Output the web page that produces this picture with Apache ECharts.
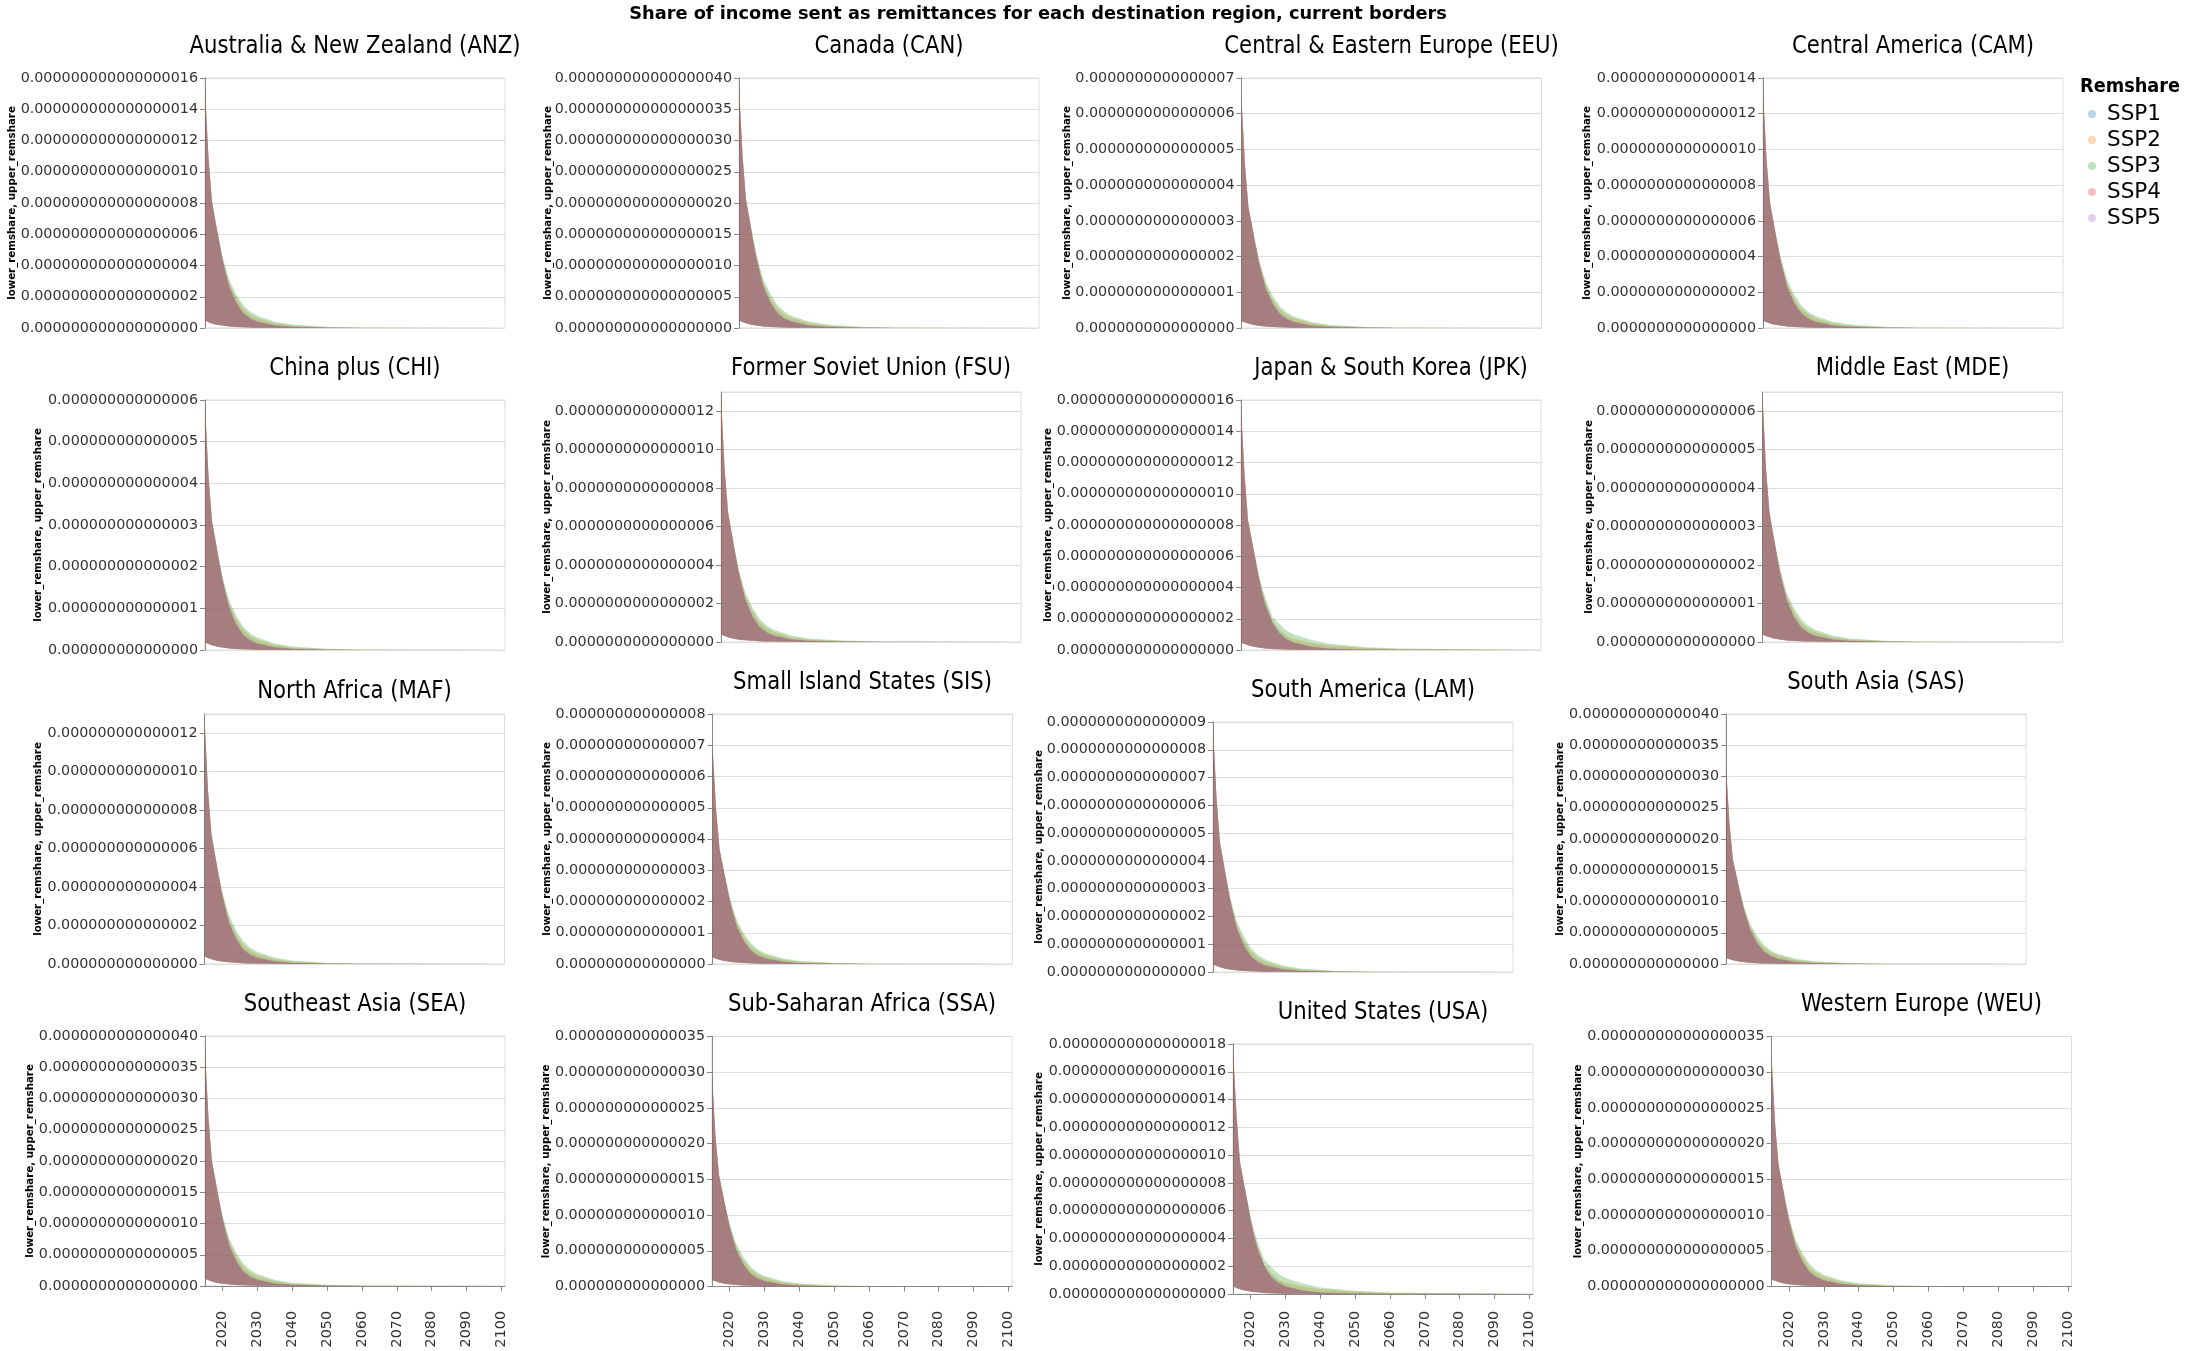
<!DOCTYPE html>
<html><head><meta charset="utf-8">
<script src="https://cdn.jsdelivr.net/npm/echarts@6/dist/echarts.min.js"></script>
<style>html,body{margin:0;padding:0;background:#fff}#chart{width:2187px;height:1351px}</style>
</head><body><div id="chart"></div>
<script>
// ---------------- DATA ----------------
const years = [2015, 2016, 2017, 2018, 2019, 2020, 2021, 2022, 2024, 2026, 2028, 2030, 2035, 2040, 2050, 2060, 2100];
const xTickYears = [2020, 2030, 2040, 2050, 2060, 2070, 2080, 2090, 2100];
const sspNames = ['SSP1', 'SSP2', 'SSP3', 'SSP4', 'SSP5'];
const mainTitle = 'Share of income sent as remittances for each destination region, current borders';
const legendTitle = 'Remshare';
const yAxisTitle = 'lower_remshare, upper_remshare';
const regionTitles = [
  'Australia & New Zealand (ANZ)', 'Canada (CAN)', 'Central & Eastern Europe (EEU)', 'Central America (CAM)',
  'China plus (CHI)', 'Former Soviet Union (FSU)', 'Japan & South Korea (JPK)', 'Middle East (MDE)',
  'North Africa (MAF)', 'Small Island States (SIS)', 'South America (LAM)', 'South Asia (SAS)',
  'Southeast Asia (SEA)', 'Sub-Saharan Africa (SSA)', 'United States (USA)', 'Western Europe (WEU)'
];
// values below are stored in these units (value * unit = share)
const regionUnit = [1e-19, 1e-19, 1e-18, 1e-17, 1e-17, 1e-17, 1e-19, 1e-18, 1e-16, 1e-17, 1e-18, 1e-16, 1e-17, 1e-16, 1e-19, 1e-19];
const yAxisMax = [160, 400, 700, 140, 600, 130, 160, 650, 130, 800, 900, 400, 400, 350, 180, 350];
const yAxisStep = [20, 50, 100, 20, 100, 20, 20, 100, 20, 100, 100, 50, 50, 50, 20, 50];
const yLabelDecimals = [18, 18, 16, 16, 15, 16, 18, 16, 15, 15, 16, 15, 16, 15, 18, 18];

// upper bounds: rows SSP1..SSP5
const upperANZ = [
  [152, 109, 81, 68, 56, 44.2, 34.9, 26.4, 16.3, 9.6, 6.2, 4.2, 1.7, 0.8, 0.23, 0.08, 0],
  [152, 108.5, 80.6, 68.2, 56.3, 45, 36.4, 28.7, 19.1, 12.4, 8.7, 6.4, 3.1, 1.55, 0.54, 0.19, 0],
  [152, 109, 81.4, 69, 57, 46.2, 38, 30.7, 21.4, 14.6, 10.4, 7.8, 4.0, 2.2, 0.85, 0.34, 0.02],
  [155, 109, 81, 68, 56, 43.4, 34.1, 25.6, 15.5, 9.0, 5.6, 3.7, 1.4, 0.6, 0.16, 0.06, 0],
  [152, 109, 81, 68, 56, 44.2, 34.9, 26.4, 16.3, 9.8, 6.4, 4.3, 1.9, 0.8, 0.23, 0.08, 0]
];
const lowerANZ = [4.7, 3.7, 2.9, 2.3, 1.9, 1.55, 1.24, 1.0, 0.7, 0.47, 0.31, 0.23, 0.12, 0.06, 0.02, 0, 0];

const upperCAN = [
  [387, 277, 205, 174, 142, 113, 89, 67, 41.5, 24.5, 15.8, 10.7, 4.3, 2.0, 0.6, 0.2, 0],
  [387, 277, 205, 174, 143, 115, 92.8, 73.1, 48.6, 31.6, 22.1, 16.2, 7.9, 4.0, 1.4, 0.47, 0],
  [387, 278, 207, 176, 145, 118, 96.8, 78.2, 54.5, 37.1, 26.5, 19.8, 10.3, 5.5, 2.2, 0.87, 0.04],
  [395, 277, 205, 174, 142, 111, 87, 65, 39.5, 22.9, 14.2, 9.5, 3.6, 1.6, 0.4, 0.16, 0],
  [387, 277, 205, 174, 142, 113, 89, 67, 41.5, 24.9, 16.2, 11.1, 4.7, 2.0, 0.6, 0.2, 0]
];
const lowerCAN = [11.9, 9.5, 7.5, 5.9, 4.7, 4.0, 3.2, 2.6, 1.8, 1.2, 0.8, 0.6, 0.3, 0.16, 0.04, 0, 0];

const upperEEU = [
  [637, 455, 338, 286, 234, 185, 146, 111, 68, 40.3, 26, 17.6, 7.2, 3.3, 1.0, 0.3, 0],
  [637, 455, 338, 286, 236, 189, 153, 120, 80, 52, 36.4, 26.7, 13, 6.5, 2.3, 0.78, 0],
  [637, 457, 341, 289, 239, 194, 159, 129, 89.7, 61.1, 43.6, 32.5, 16.9, 9.1, 3.6, 1.4, 0.07],
  [650, 455, 338, 286, 234, 182, 143, 107, 65, 37.7, 23.4, 15.6, 5.9, 2.6, 0.65, 0.26, 0],
  [637, 455, 338, 286, 234, 185, 146, 111, 68, 41, 26.7, 18.2, 7.8, 3.3, 1.0, 0.3, 0]
];
const lowerEEU = [19.5, 15.6, 12.4, 9.8, 7.8, 6.5, 5.2, 4.2, 2.9, 2.0, 1.3, 1.0, 0.5, 0.26, 0.07, 0, 0];

const upperCAM = [
  [132, 94.5, 70.2, 59.4, 48.6, 38.5, 30.4, 23, 14.2, 8.4, 5.4, 3.6, 1.5, 0.68, 0.2, 0.07, 0],
  [132, 94.5, 70.2, 59.4, 49, 39.2, 31.7, 25, 16.6, 10.8, 7.6, 5.5, 2.7, 1.35, 0.47, 0.16, 0],
  [132, 94.9, 70.9, 60.1, 49.7, 40.2, 33.1, 26.7, 18.6, 12.7, 9.0, 6.8, 3.5, 1.9, 0.74, 0.3, 0.01],
  [135, 94.5, 70.2, 59.4, 48.6, 37.8, 29.7, 22.3, 13.5, 7.8, 4.9, 3.2, 1.2, 0.54, 0.14, 0.05, 0],
  [132, 94.5, 70.2, 59.4, 48.6, 38.5, 30.4, 23, 14.2, 8.5, 5.5, 3.8, 1.6, 0.68, 0.2, 0.07, 0]
];
const lowerCAM = [4.05, 3.24, 2.57, 2.03, 1.62, 1.35, 1.08, 0.88, 0.61, 0.41, 0.27, 0.2, 0.11, 0.05, 0.01, 0, 0];

const upperCHI = [
  [583, 417, 309, 262, 214, 170, 134, 101, 62.5, 36.9, 23.8, 16.1, 6.5, 3.0, 0.9, 0.3, 0],
  [583, 417, 309, 262, 216, 173, 140, 110, 73.2, 47.6, 33.3, 24.4, 11.9, 6.0, 2.1, 0.71, 0],
  [583, 418, 312, 265, 219, 177, 146, 118, 82.1, 55.9, 39.9, 29.8, 15.5, 8.3, 3.3, 1.3, 0.06],
  [595, 417, 309, 262, 214, 167, 131, 98, 59.5, 34.5, 21.4, 14.3, 5.4, 2.4, 0.6, 0.24, 0],
  [583, 417, 309, 262, 214, 170, 134, 101, 62.5, 37.5, 24.4, 16.7, 7.1, 3.0, 0.9, 0.3, 0]
];
const lowerCHI = [17.9, 14.3, 11.3, 8.9, 7.1, 6.0, 4.8, 3.9, 2.7, 1.8, 1.2, 0.9, 0.5, 0.24, 0.06, 0, 0];

const upperFSU = [
  [127, 91, 67.6, 57.2, 46.8, 37.1, 29.3, 22.1, 13.7, 8.1, 5.2, 3.5, 1.4, 0.65, 0.2, 0.07, 0],
  [127, 91, 67.6, 57.2, 47.2, 37.7, 30.6, 24.1, 16, 10.4, 7.3, 5.3, 2.6, 1.3, 0.46, 0.16, 0],
  [127, 91.4, 68.3, 57.9, 47.8, 38.7, 31.9, 25.7, 17.9, 12.2, 8.7, 6.5, 3.4, 1.8, 0.72, 0.29, 0.01],
  [130, 91, 67.6, 57.2, 46.8, 36.4, 28.6, 21.5, 13, 7.5, 4.7, 3.1, 1.2, 0.52, 0.13, 0.05, 0],
  [127, 91, 67.6, 57.2, 46.8, 37.1, 29.3, 22.1, 13.7, 8.2, 5.3, 3.6, 1.6, 0.65, 0.2, 0.07, 0]
];
const lowerFSU = [3.9, 3.1, 2.5, 1.95, 1.56, 1.3, 1.04, 0.85, 0.59, 0.39, 0.26, 0.2, 0.1, 0.05, 0.01, 0, 0];

const upperJPK = [
  [154, 113, 83, 71.4, 59.7, 47.5, 37.5, 29, 18, 11, 7.2, 5.0, 2.2, 1.0, 0.3, 0.1, 0],
  [154, 113, 83, 71.4, 60, 48.5, 38.8, 31, 18.5, 12.9, 9.4, 7.2, 4.7, 3.0, 1.5, 0.6, 0],
  [154, 113, 83.5, 72, 60.5, 49.5, 40.5, 33.5, 21.5, 16.8, 12.6, 10.1, 6.6, 4.1, 2.0, 1.0, 0.02],
  [157, 113, 83, 71.4, 59.7, 47.1, 36.9, 28.3, 17.3, 10.2, 6.6, 4.6, 1.9, 0.8, 0.24, 0.08, 0],
  [154, 113, 83, 71.4, 59.7, 47.5, 37.5, 29, 18, 11.2, 7.4, 5.2, 2.4, 1.0, 0.3, 0.1, 0]
];
const lowerJPK = [4.7, 3.8, 3.0, 2.4, 1.9, 1.6, 1.3, 1.0, 0.7, 0.47, 0.31, 0.24, 0.13, 0.06, 0.02, 0, 0];

const upperMDE = [
  [637, 451, 336, 284, 232, 183, 144, 109, 67, 39.5, 25.5, 17.2, 7, 3.2, 0.95, 0.3, 0],
  [637, 451, 336, 284, 234, 187, 151, 119, 79, 51.5, 36, 26.4, 12.9, 6.4, 2.3, 0.77, 0],
  [637, 453, 339, 287, 237, 192, 157, 127, 88.8, 60.5, 43.1, 32.2, 16.7, 9.0, 3.5, 1.4, 0.06],
  [650, 450, 335, 283, 231, 180, 141, 106, 64, 37, 23, 15.3, 5.8, 2.5, 0.6, 0.25, 0],
  [637, 451, 336, 284, 232, 183, 144, 109, 67, 40.2, 26.2, 17.8, 7.6, 3.2, 0.95, 0.3, 0]
];
const lowerMDE = [19.5, 15.6, 12.4, 9.8, 7.8, 6.5, 5.2, 4.2, 2.9, 2.0, 1.3, 1.0, 0.5, 0.26, 0.07, 0, 0];

const upperMAF = [
  [127, 90.5, 67.2, 57, 46.6, 36.9, 29.1, 22, 13.6, 8.0, 5.1, 3.5, 1.4, 0.64, 0.19, 0.07, 0],
  [127, 90.5, 67.2, 57, 47, 37.5, 30.4, 23.9, 15.9, 10.3, 7.2, 5.3, 2.6, 1.3, 0.45, 0.16, 0],
  [127, 90.9, 67.9, 57.5, 47.6, 38.5, 31.7, 25.6, 17.8, 12.1, 8.7, 6.5, 3.4, 1.8, 0.71, 0.28, 0.01],
  [130, 90, 67, 56.8, 46.5, 36.2, 28.4, 21.3, 12.9, 7.4, 4.6, 3.1, 1.15, 0.5, 0.13, 0.05, 0],
  [127, 90.5, 67.2, 57, 46.6, 36.9, 29.1, 22, 13.6, 8.1, 5.3, 3.6, 1.55, 0.64, 0.19, 0.07, 0]
];
const lowerMAF = [3.9, 3.1, 2.5, 1.95, 1.56, 1.3, 1.04, 0.85, 0.59, 0.39, 0.26, 0.2, 0.1, 0.05, 0.01, 0, 0];

const upperSIS = [
  [696, 497, 369, 312, 256, 202, 160, 121, 74.6, 44, 28.4, 19.2, 7.8, 3.6, 1.1, 0.36, 0],
  [696, 497, 369, 312, 258, 206, 167, 131, 87.3, 56.8, 39.8, 29.1, 14.2, 7.1, 2.5, 0.85, 0],
  [696, 499, 373, 316, 261, 212, 174, 141, 98, 66.7, 47.6, 35.5, 18.5, 9.9, 3.9, 1.6, 0.07],
  [710, 497, 369, 312, 256, 199, 156, 117, 71, 41.2, 25.6, 17, 6.4, 2.8, 0.7, 0.28, 0],
  [696, 497, 369, 312, 256, 202, 160, 121, 74.6, 44.7, 29.1, 19.9, 8.5, 3.6, 1.1, 0.36, 0]
];
const lowerSIS = [21.3, 17, 13.5, 10.7, 8.5, 7.1, 5.7, 4.6, 3.2, 2.1, 1.4, 1.1, 0.57, 0.28, 0.07, 0, 0];

const upperLAM = [
  [877, 627, 465, 394, 322, 255, 201, 152, 94, 55.5, 35.8, 24.2, 9.8, 4.5, 1.3, 0.45, 0],
  [877, 627, 465, 394, 325, 260, 210, 166, 110, 71.6, 50.1, 36.7, 17.9, 9.0, 3.1, 1.1, 0],
  [877, 629, 470, 398, 329, 267, 219, 177, 124, 84.1, 60, 44.8, 23.3, 12.5, 4.9, 2.0, 0.09],
  [895, 627, 465, 394, 322, 251, 197, 148, 89.5, 51.9, 32.2, 21.5, 8.1, 3.6, 0.9, 0.36, 0],
  [877, 627, 465, 394, 322, 255, 201, 152, 94, 56.4, 36.7, 25.1, 10.7, 4.5, 1.3, 0.45, 0]
];
const lowerLAM = [26.9, 21.5, 17, 13.4, 10.7, 9.0, 7.2, 5.8, 4.0, 2.7, 1.8, 1.3, 0.7, 0.36, 0.09, 0, 0];

const upperSAS = [
  [314, 224, 166, 141, 115, 91.2, 72, 54.4, 33.6, 19.8, 12.8, 8.6, 3.5, 1.6, 0.48, 0.16, 0],
  [314, 224, 166, 141, 116, 92.8, 75.2, 59.2, 39.4, 25.6, 17.9, 13.1, 6.4, 3.2, 1.1, 0.38, 0],
  [314, 225, 168, 142, 118, 95.4, 78.4, 63.4, 44.2, 30.1, 21.4, 16, 8.3, 4.5, 1.8, 0.7, 0.03],
  [320, 224, 166, 141, 115, 89.6, 70.4, 52.8, 32, 18.6, 11.5, 7.7, 2.9, 1.3, 0.32, 0.13, 0],
  [314, 224, 166, 141, 115, 91.2, 72, 54.4, 33.6, 20.2, 13.1, 9.0, 3.8, 1.6, 0.48, 0.16, 0]
];
const lowerSAS = [9.6, 7.7, 6.1, 4.8, 3.8, 3.2, 2.6, 2.1, 1.4, 0.96, 0.64, 0.48, 0.26, 0.13, 0.03, 0, 0];

const upperSEA = [
  [375, 268, 199, 169, 138, 109, 86.2, 65.1, 40.2, 23.7, 15.3, 10.3, 4.2, 1.9, 0.57, 0.19, 0],
  [375, 268, 199, 169, 139, 111, 90, 70.9, 47.1, 30.6, 21.4, 15.7, 7.7, 3.8, 1.3, 0.46, 0],
  [375, 269, 201, 170, 141, 114, 93.8, 75.8, 52.9, 36, 25.7, 19.2, 10, 5.4, 2.1, 0.84, 0.04],
  [383, 268, 199, 169, 138, 107, 84.3, 63.2, 38.3, 22.2, 13.8, 9.2, 3.4, 1.5, 0.38, 0.15, 0],
  [375, 268, 199, 169, 138, 109, 86.2, 65.1, 40.2, 24.1, 15.7, 10.7, 4.6, 1.9, 0.57, 0.19, 0]
];
const lowerSEA = [11.5, 9.2, 7.3, 5.7, 4.6, 3.8, 3.1, 2.5, 1.7, 1.1, 0.77, 0.57, 0.31, 0.15, 0.04, 0, 0];

const upperSSA = [
  [294, 210, 156, 132, 108, 85.5, 67.5, 51, 31.5, 18.6, 12, 8.1, 3.3, 1.5, 0.45, 0.15, 0],
  [294, 210, 156, 132, 109, 87, 70.5, 55.5, 36.9, 24, 16.8, 12.3, 6, 3, 1.05, 0.36, 0],
  [294, 211, 158, 134, 110, 89.4, 73.5, 59.4, 41.4, 28.2, 20.1, 15, 7.8, 4.2, 1.65, 0.66, 0.03],
  [300, 210, 156, 132, 108, 84, 66, 49.5, 30, 17.4, 10.8, 7.2, 2.7, 1.2, 0.3, 0.12, 0],
  [294, 210, 156, 132, 108, 85.5, 67.5, 51, 31.5, 18.9, 12.3, 8.4, 3.6, 1.5, 0.45, 0.15, 0]
];
const lowerSSA = [9, 7.2, 5.7, 4.5, 3.6, 3, 2.4, 1.95, 1.35, 0.9, 0.6, 0.45, 0.24, 0.12, 0.03, 0, 0];

const upperUSA = [
  [175, 129, 95, 81.4, 68, 54.2, 42.8, 33, 20.5, 12.5, 8.2, 5.7, 2.5, 1.1, 0.34, 0.11, 0],
  [175, 129, 95, 81.4, 68.5, 55, 44, 35.2, 21.1, 14.7, 10.7, 8.2, 5.4, 3.4, 1.7, 0.7, 0],
  [175, 129, 95.5, 82, 69.2, 56.5, 46, 38, 24.4, 19.2, 14.5, 11.5, 7.5, 4.7, 2.3, 1.1, 0.02],
  [179, 129, 95, 81.4, 68, 53.7, 42.1, 32.2, 19.7, 11.6, 7.5, 5.2, 2.1, 0.9, 0.27, 0.09, 0],
  [175, 129, 95, 81.4, 68, 54.2, 42.8, 33, 20.5, 12.8, 8.4, 5.9, 2.7, 1.1, 0.34, 0.11, 0]
];
const lowerUSA = [5.4, 4.3, 3.4, 2.7, 2.1, 1.8, 1.4, 1.2, 0.8, 0.54, 0.36, 0.27, 0.14, 0.07, 0.02, 0, 0];

const upperWEU = [
  [322, 230, 171, 145, 118, 93.8, 74, 55.9, 34.5, 20.4, 13.2, 8.9, 3.6, 1.6, 0.49, 0.16, 0],
  [322, 230, 171, 145, 119, 95.4, 77.3, 60.9, 40.5, 26.3, 18.4, 13.5, 6.6, 3.3, 1.15, 0.39, 0],
  [322, 231, 173, 146, 121, 98, 80.6, 65.1, 45.4, 30.9, 22, 16.5, 8.6, 4.6, 1.8, 0.72, 0.03],
  [329, 230, 171, 145, 118, 92.1, 72.4, 54.3, 32.9, 19.1, 11.8, 7.9, 3.0, 1.3, 0.33, 0.13, 0],
  [322, 230, 171, 145, 118, 93.8, 74, 55.9, 34.5, 20.7, 13.5, 9.2, 3.9, 1.6, 0.49, 0.16, 0]
];
const lowerWEU = [9.9, 7.9, 6.3, 4.9, 3.9, 3.3, 2.6, 2.1, 1.5, 0.99, 0.66, 0.49, 0.26, 0.13, 0.03, 0, 0];

const upperByRegion = [upperANZ, upperCAN, upperEEU, upperCAM, upperCHI, upperFSU, upperJPK, upperMDE,
  upperMAF, upperSIS, upperLAM, upperSAS, upperSEA, upperSSA, upperUSA, upperWEU];
const lowerByRegion = [lowerANZ, lowerCAN, lowerEEU, lowerCAM, lowerCHI, lowerFSU, lowerJPK, lowerMDE,
  lowerMAF, lowerSIS, lowerLAM, lowerSAS, lowerSEA, lowerSSA, lowerUSA, lowerWEU];

// ---------------- LAYOUT / STYLE ----------------
const sspColors = ['#1f77b4', '#ff7f0e', '#2ca02c', '#d62728', '#9467bd'];
const panelLeft = [205, 739, 1241.5, 1763, 205, 721, 1241, 1762.5, 204.5, 712.5, 1213, 1726, 205, 712, 1233, 1771.5];
const panelTop = [78, 78, 78, 78, 400, 392, 400, 392, 714, 714, 722, 714, 1036, 1036.5, 1044, 1036.5];
const titleCenterY = [47, 47, 47, 47, 369, 369, 369, 369, 692, 683, 691, 683, 1005, 1005, 1013, 1005];
const axisTitleX = [12, 548.4, 1067, 1587, 38.6, 547.2, 1048.4, 1589, 38.6, 547, 1039.3, 1560.5, 30.3, 546.4, 1039, 1578];
const PANEL_W = 300, PANEL_H = 250, X_AXIS_Y = 1303;

const mctx = document.createElement('canvas').getContext('2d');
function textWidth(text, font) { mctx.font = font; return mctx.measureText(text).width; }
const baseFam = '"DejaVu Sans"';
const tickFont = 14.3;
const titleSize = 24;
const titleScaleX = 331 / textWidth(regionTitles[0], titleSize + 'px ' + baseFam);
const legendTitleSize = 19;
const legendTitleScaleX = 100 / textWidth(legendTitle, 'bold ' + legendTitleSize + 'px ' + baseFam);
const mainSize = 100 * 818 / textWidth(mainTitle, 'bold 100px ' + baseFam);
const axisTitleSize = 100 * 194 / textWidth(yAxisTitle, 'bold 100px ' + baseFam);
const legendSize = 21.5;

const grids = [], xAxes = [], yAxes = [], series = [], graphics = [];
function txt(x, y, text, font, align, extra) {
  return Object.assign({type: 'text', x: x, y: y, silent: true, style: {text: text, fill: '#000', font: font,
    align: align, verticalAlign: 'middle', textAlign: align, textVerticalAlign: 'middle'}}, extra || {});
}
graphics.push(txt(1038, 14, mainTitle, 'bold ' + mainSize + 'px ' + baseFam, 'center'));
graphics.push(txt(2080, 87, legendTitle, 'bold ' + legendTitleSize + 'px ' + baseFam, 'left', {scaleX: legendTitleScaleX}));

for (let i = 0; i < 16; i++) {
  const bottomRow = i >= 12;
  const unit = regionUnit[i], dec = yLabelDecimals[i];
  grids.push({left: panelLeft[i], top: panelTop[i], width: PANEL_W, height: PANEL_H, show: true,
    borderColor: '#ddd', borderWidth: 1, backgroundColor: 'rgba(0,0,0,0)'});
  xAxes.push({gridIndex: i, type: 'value', min: 2015, max: 2101,
    offset: bottomRow ? X_AXIS_Y - (panelTop[i] + PANEL_H) : 0,
    axisLine: {show: bottomRow, lineStyle: {color: '#888', width: 1}},
    axisTick: {show: bottomRow, customValues: xTickYears, length: 5, lineStyle: {color: '#888'}},
    axisLabel: {show: bottomRow, customValues: xTickYears, rotate: 90, margin: 8, color: '#333',
      fontSize: tickFont, fontFamily: baseFam, formatter: v => String(v)},
    splitLine: {show: false}});
  yAxes.push({gridIndex: i, type: 'value', min: 0, max: yAxisMax[i], interval: yAxisStep[i],
    axisLine: {show: true, lineStyle: {color: '#888', width: 1}},
    axisTick: {show: true, length: 5, lineStyle: {color: '#888'}},
    axisLabel: {margin: 7, color: '#333', fontSize: tickFont, fontFamily: baseFam,
      showMaxLabel: yAxisMax[i] % yAxisStep[i] === 0,
      formatter: v => (v * unit).toFixed(dec)},
    splitLine: {show: true, lineStyle: {color: '#ddd', width: 1}}});
  const lower = lowerByRegion[i], upper = upperByRegion[i];
  for (let s = 0; s < 5; s++) {
    const up = upper[s], color = sspColors[s];
    series.push({type: 'custom', name: sspNames[s], coordinateSystem: 'cartesian2d',
      xAxisIndex: i, yAxisIndex: i, silent: true, animation: false, clip: true,
      itemStyle: {color: color},
      data: years.map((y, k) => [y, lower[k], up[k]]),
      encode: {x: 0, y: [1, 2]},
      renderItem: function (params, api) {
        if (params.dataIndex !== 0) return null;
        const pts = [];
        for (let k = 0; k < years.length; k++) pts.push(api.coord([years[k], up[k]]));
        for (let k = years.length - 1; k >= 0; k--) pts.push(api.coord([years[k], lower[k]]));
        return {type: 'polygon', shape: {points: pts}, style: {fill: color, opacity: 0.3}};
      }});
  }
  graphics.push(txt(panelLeft[i] + PANEL_W / 2, titleCenterY[i], regionTitles[i], titleSize + 'px ' + baseFam, 'center',
    {scaleX: titleScaleX}));
  graphics.push(txt(axisTitleX[i], panelTop[i] + PANEL_H / 2, yAxisTitle, 'bold ' + axisTitleSize + 'px ' + baseFam, 'center',
    {rotation: Math.PI / 2}));
}

const chart = echarts.init(document.getElementById('chart'), null, {renderer: 'canvas', width: 2187, height: 1351});
chart.setOption({
  backgroundColor: '#fff',
  animation: false,
  grid: grids, xAxis: xAxes, yAxis: yAxes, series: series,
  legend: {data: sspNames, orient: 'vertical', left: 2088, top: 101, padding: 0, itemGap: 0,
    itemWidth: 8, itemHeight: 8, icon: 'circle', selectedMode: false,
    itemStyle: {opacity: 0.3},
    textStyle: {fontFamily: baseFam, fontSize: legendSize, color: '#000', lineHeight: 26, padding: [0, 0, 0, 6]}},
  graphic: {elements: graphics}
});
</script>
</body></html>
